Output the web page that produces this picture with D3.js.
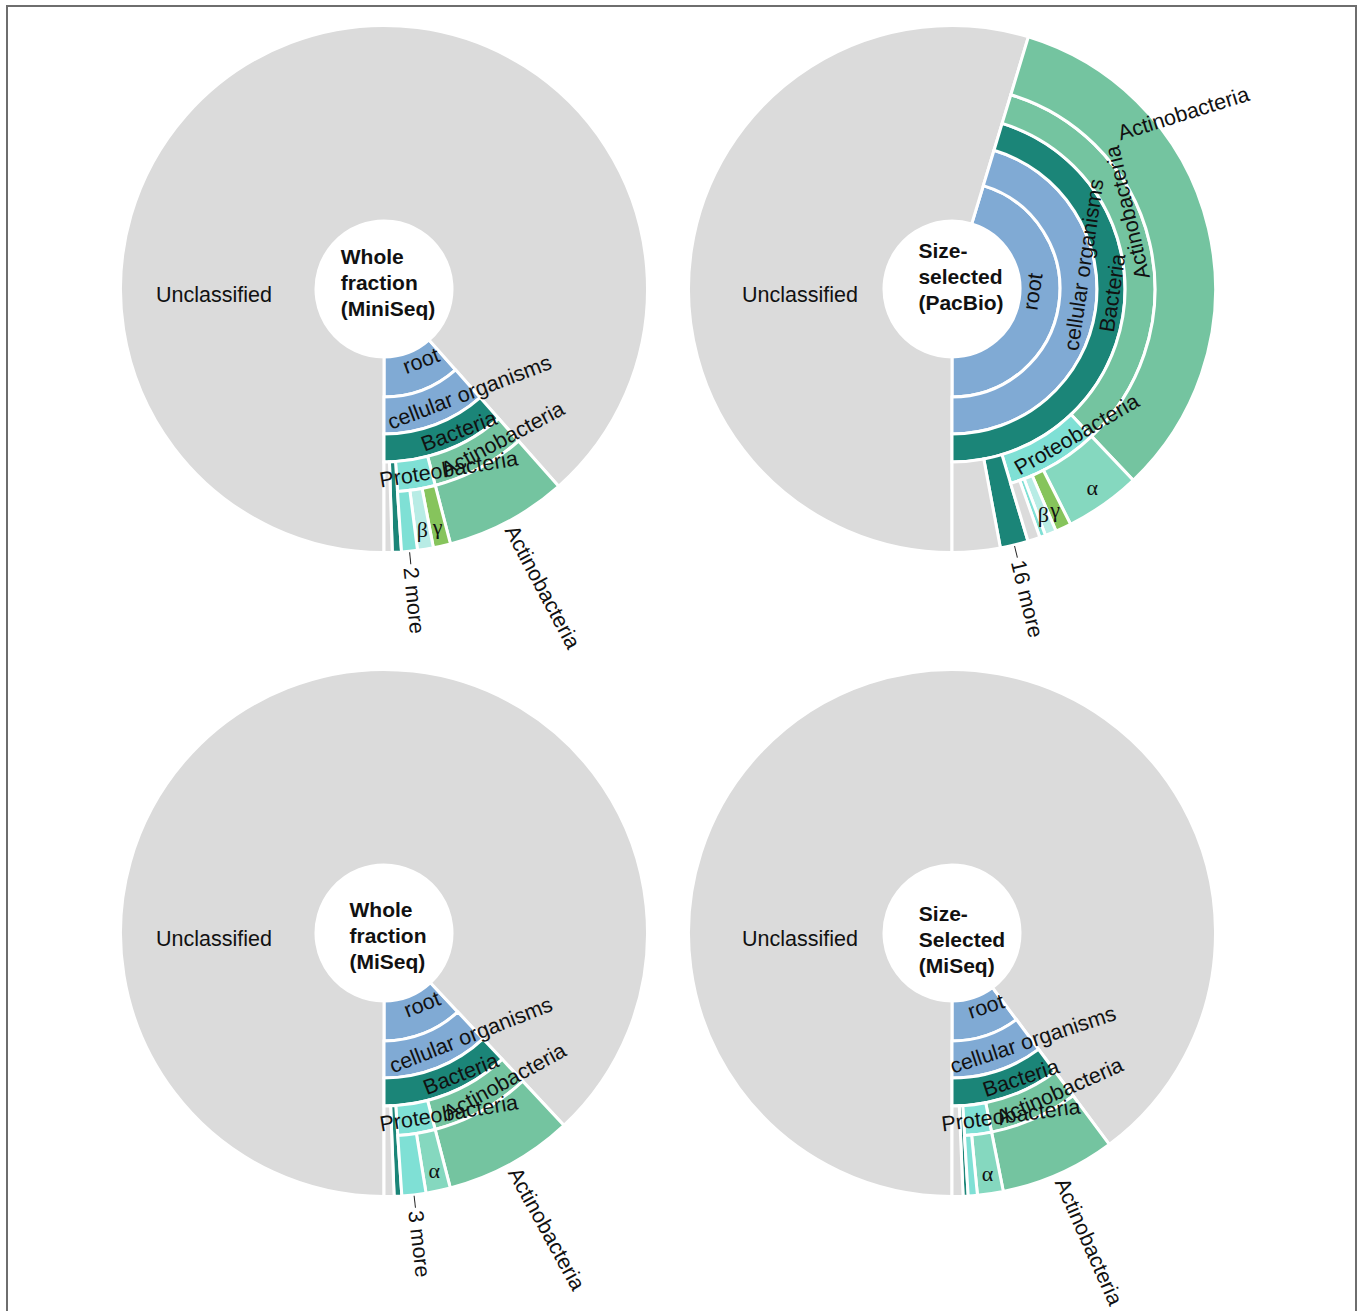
<!DOCTYPE html>
<html>
<head>
<meta charset="utf-8">
<title>Krona charts</title>
<script src="https://cdn.jsdelivr.net/npm/d3@7"></script>
<style>
body { margin: 0; background: #fff; }
text { font-family: 'Liberation Sans', Arial, sans-serif; font-size: 21.5px; fill: #111; }
text.title { font-weight: bold; font-size: 21px; }
text.greek { font-family: 'Liberation Serif', 'Times New Roman', serif; font-size: 22px; }
path.wedge { stroke: #fff; stroke-width: 3; }
line.tick { stroke: #222; stroke-width: 1; }
</style>
</head>
<body>
<div id="plot"></div>
<script>
var krona = krona || {};

// one entry per sample, values are % of reads
var titles = [
  ['Whole', 'fraction', '(MiniSeq)'],
  ['Size-', 'selected', '(PacBio)'],
  ['Whole', 'fraction', '(MiSeq)'],
  ['Size-', 'Selected', '(MiSeq)']
];
var unclassified       = [88.47, 54.68, 88.03, 89.82];
var actinobacteria     = [7.47, 33.25, 7.92, 7.06];
var alphaProteo        = [0, 4.64, 1.50, 1.58];
var gammaProteo        = [1.06, 0.97, 0, 0];
var betaProteo         = [0.97, 0.69, 0, 0];
var otherProteo        = [0.97, 0.36, 1.47, 0.56];
var otherProteoCount   = [2, 0, 3, 0];
var unassignedProteo   = [0, 0.75, 0, 0];
var otherPhyla         = [0.56, 1.72, 0.47, 0.31];
var otherPhylaCount    = [0, 16, 0, 0];
var unassignedBacteria = [0.50, 2.94, 0.61, 0.67];

// panel layout
var panelX = [384, 952, 384, 952];
var panelY = [289, 289, 933, 933];
var unclassDx = [-170, -152, -170, -152];
var titleDx = [4, 9, 4, 10];
var titleDy = [-6, -12, 3, 7];

krona.colors = {
  gray: '#dbdbdb',
  root: '#80aad4',
  bacteria: '#1b8578',
  actino: '#74c4a0',
  proteo: '#7fe0d5',
  alpha: '#85d8bf',
  beta: '#b8ece5',
  gamma: '#86c45c'
};

krona.edges = [68, 108, 145, 173, 203];
krona.R = 263.5;

krona.build = function(i) {

  var keep = function(d) { return d.value > 0 || d.children; };

  var proteo = [
    {name: 'α', kind: 'alpha', value: alphaProteo[i]},
    {name: 'γ', kind: 'gamma', value: gammaProteo[i]},
    {name: 'β', kind: 'beta', value: betaProteo[i]},
    {name: 'more', kind: 'proteo', count: otherProteoCount[i], value: otherProteo[i]},
    {name: '', kind: 'gray', value: unassignedProteo[i]}
  ].filter(keep);

  var bact = [
    {name: 'Actinobacteria', kind: 'actino', children: [
      {name: 'Actinobacteria', kind: 'actino', value: actinobacteria[i]}
    ]},
    {name: 'Proteobacteria', kind: 'proteo', children: proteo},
    {name: 'more', kind: 'bacteria', count: otherPhylaCount[i], value: otherPhyla[i]},
    {name: '', kind: 'gray', value: unassignedBacteria[i]}
  ].filter(keep);

  return {name: '', children: [
    {name: 'root', kind: 'root', children: [
      {name: 'cellular organisms', kind: 'root', children: [
        {name: 'Bacteria', kind: 'bacteria', children: bact}
      ]}
    ]},
    {name: 'Unclassified', kind: 'gray', value: unclassified[i]}
  ]};

};

krona.draw = function(svg, i) {

  var cx = panelX[i], cy = panelY[i];
  var R = krona.R, edges = krona.edges;

  var h = d3.hierarchy(krona.build(i)).sum(function(d) { return d.children ? 0 : d.value; });
  d3.partition().size([2 * Math.PI, 1])(h);

  // tree wedge ends at the bottom of the disc
  var rootNode = h.children[0];
  var off = Math.PI - rootNode.x1;

  var nodes = h.descendants().filter(function(d) { return d.depth > 0; });
  nodes.forEach(function(d) {
    d.a0 = d.x0 + off;
    d.a1 = d.x1 + off;
    d.r0 = edges[d.depth - 1];
    d.r1 = d.children ? edges[d.depth] : R;
    d.mid = (d.a0 + d.a1) / 2;
  });

  var arc = d3.arc()
    .startAngle(function(d) { return d.a0; })
    .endAngle(function(d) { return d.a1; })
    .innerRadius(function(d) { return d.r0; })
    .outerRadius(function(d) { return d.r1; });

  var g = svg.append('g').attr('transform', 'translate(' + cx + ',' + cy + ')');

  g.selectAll('path.wedge').data(nodes).enter()
    .append('path')
    .attr('class', 'wedge')
    .attr('d', arc)
    .attr('fill', function(d) { return krona.colors[d.data.kind]; });

  var deg = 180 / Math.PI;
  var pt = function(a, r) { return [r * Math.sin(a), -r * Math.cos(a)]; };

  nodes.forEach(function(d) {

    var name = d.data.name;

    if (name === 'Unclassified') {
      g.append('text')
        .attr('x', unclassDx[i]).attr('y', 5).attr('dy', '0.35em')
        .attr('text-anchor', 'middle')
        .text(name);
      return;
    }

    if (d.children) {
      // tangential label inside the ring
      var lr = d.depth === 1 ? d.r0 + 12 : (d.r0 + d.r1) / 2;
      var p = pt(d.mid, lr);
      var a = d.mid * deg;
      var rot = a > 70 ? a - 180 : a;
      var t = g.append('text')
        .attr('transform', 'translate(' + p[0] + ',' + p[1] + ') rotate(' + rot + ')')
        .attr('text-anchor', 'middle')
        .attr('dy', '0.35em')
        .text(name);
      t.attr('x', 0.25 * t.node().getComputedTextLength());
      return;
    }

    if (d.data.kind === 'alpha' || d.data.kind === 'beta' || d.data.kind === 'gamma') {
      var q = pt(d.mid, 244);
      g.append('text')
        .attr('class', 'greek')
        .attr('x', q[0]).attr('y', q[1]).attr('dy', '0.3em')
        .attr('text-anchor', 'middle')
        .text(name);
      return;
    }

    if (name === 'more' && d.data.count) {
      g.append('line')
        .attr('class', 'tick')
        .attr('transform', 'rotate(' + (d.mid * deg - 90) + ')')
        .attr('x1', R + 1).attr('x2', R + 13);
      g.append('text')
        .attr('transform', 'rotate(' + (d.mid * deg - 90) + ')')
        .attr('x', R + 16).attr('dy', '0.35em')
        .text(d.data.count + ' more');
      return;
    }

    if (name === 'Actinobacteria') {
      if (d.a1 - d.a0 > Math.PI / 2) {
        // wide leaf: label laid across the outer ring
        var la = d.a0 + 0.3 * (d.a1 - d.a0);
        var lp = pt(la, R + 27);
        g.append('text')
          .attr('transform', 'translate(' + lp[0] + ',' + lp[1] + ') rotate(' + (la * deg - 70) + ')')
          .attr('text-anchor', 'middle')
          .attr('dy', '0.35em')
          .text(name);
      } else {
        g.append('text')
          .attr('transform', 'rotate(' + (d.mid * deg - 90) + ')')
          .attr('x', R + 6).attr('dy', '0.35em')
          .text(name);
      }
    }

  });

  // sample name in the hole
  var tg = g.append('g').attr('class', 'titles');
  var lines = titles[i];
  var tt = tg.selectAll('text').data(lines).enter()
    .append('text')
    .attr('class', 'title')
    .attr('y', function(d, k) { return titleDy[i] + (k - 1) * 26; })
    .attr('dy', '0.35em')
    .text(function(d) { return d; });
  var w = 0;
  tt.each(function() { w = Math.max(w, this.getComputedTextLength()); });
  tt.attr('x', -w / 2 + titleDx[i]);

};

krona.init = function() {

  var svg = d3.select('#plot').append('svg')
    .attr('width', 1362)
    .attr('height', 1311);

  svg.append('rect')
    .attr('x', 7).attr('y', 6)
    .attr('width', 1349).attr('height', 1400)
    .attr('fill', 'none')
    .attr('stroke', '#6e6e6e')
    .attr('stroke-width', 2);

  for (var i = 0; i < titles.length; i++) {
    krona.draw(svg, i);
  }

};

krona.init();
</script>
</body>
</html>
